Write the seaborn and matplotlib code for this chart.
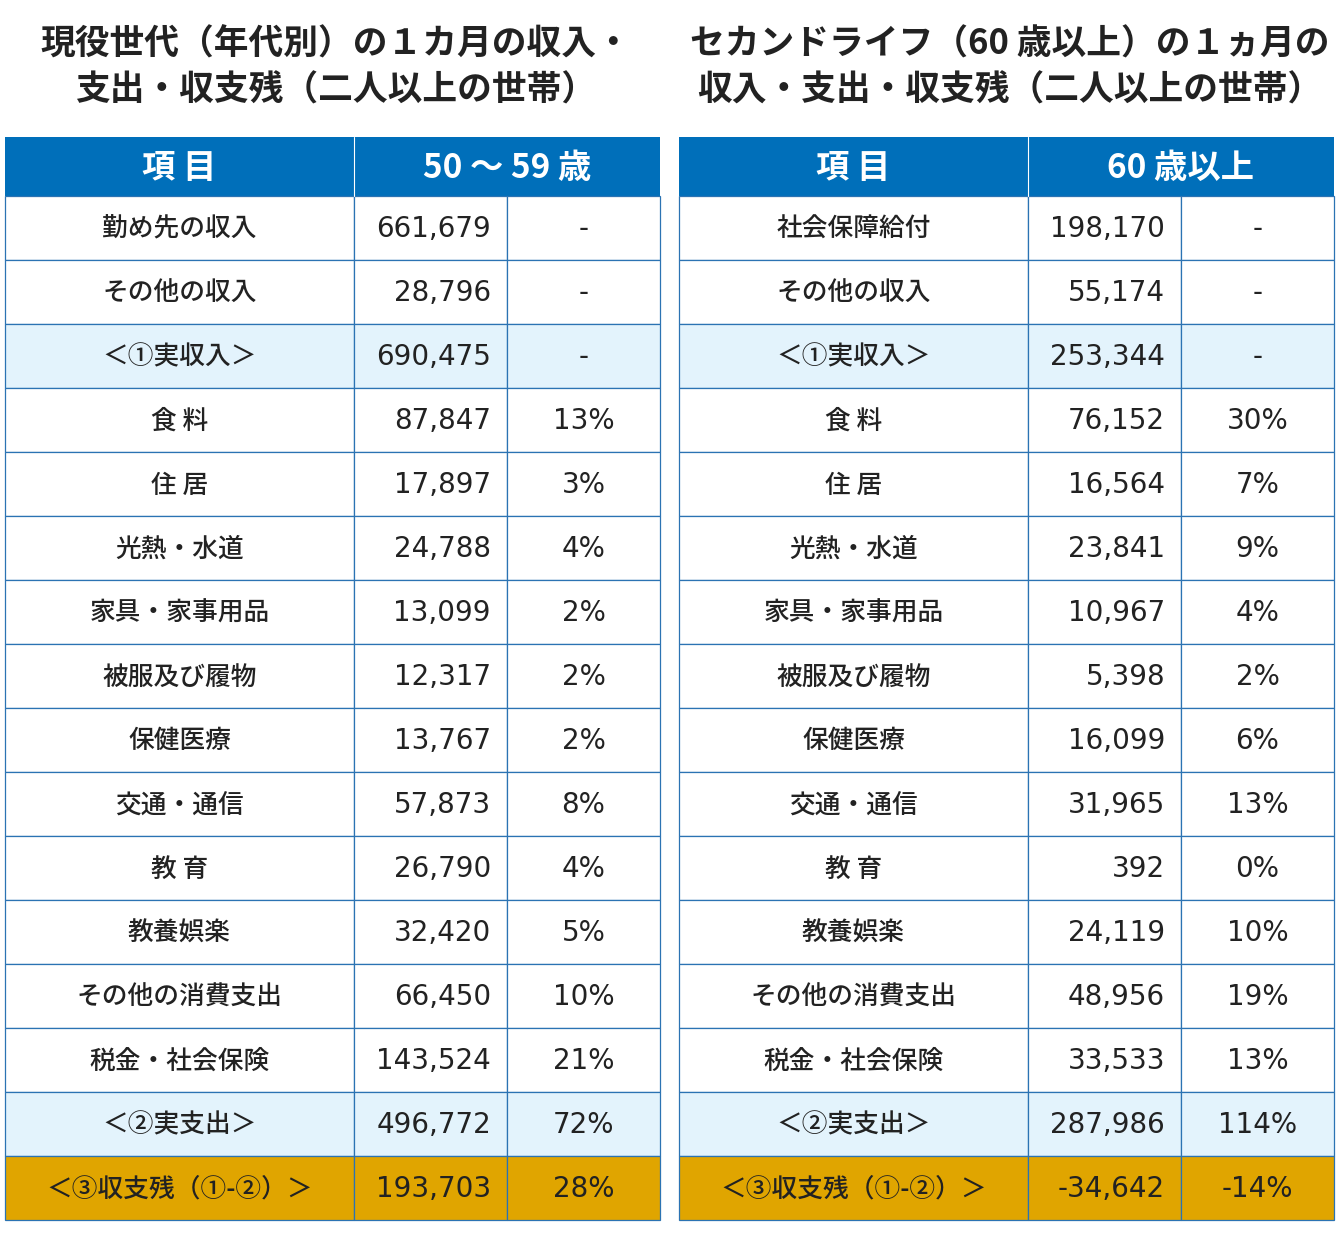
import matplotlib
matplotlib.use("Agg")
import matplotlib.pyplot as plt
from matplotlib.patches import Rectangle
import seaborn as sns

# ----------------------------------
# Data
# ----------------------------------
titles = [
    "現役世代（年代別）の１カ月の収入・\n支出・収支残（二人以上の世帯）",
    "セカンドライフ（60 歳以上）の１ヵ月の\n収入・支出・収支残（二人以上の世帯）",
]
headers = [("項 目", "50 ～ 59 歳"), ("項 目", "60 歳以上")]

items_left = ["勤め先の収入", "その他の収入", "＜①実収入＞", "食 料", "住 居", "光熱・水道",
              "家具・家事用品", "被服及び履物", "保健医療", "交通・通信", "教 育", "教養娯楽",
              "その他の消費支出", "税金・社会保険", "＜②実支出＞", "＜③収支残（①-②）＞"]
items_right = ["社会保障給付"] + items_left[1:]

amount_left = [661679, 28796, 690475, 87847, 17897, 24788, 13099, 12317, 13767,
               57873, 26790, 32420, 66450, 143524, 496772, 193703]
share_left = ["-", "-", "-", "13%", "3%", "4%", "2%", "2%", "2%", "8%", "4%",
              "5%", "10%", "21%", "72%", "28%"]

amount_right = [198170, 55174, 253344, 76152, 16564, 23841, 10967, 5398, 16099,
                31965, 392, 24119, 48956, 33533, 287986, -34642]
share_right = ["-", "-", "-", "30%", "7%", "9%", "4%", "2%", "6%", "13%", "0%",
               "10%", "19%", "13%", "114%", "-14%"]

# row kind: 0 normal, 1 subtotal, 2 balance
row_kind = [0, 0, 1, 0, 0, 0, 0, 0, 0, 0, 0, 0, 0, 0, 1, 2]

# ----------------------------------
# Style
# ----------------------------------
sns.set_style("white")
plt.rcParams["font.family"] = ["Noto Sans CJK JP", "DejaVu Sans"]
NUM_FONT = ["DejaVu Sans"]

HEAD_BLUE = "#006fba"
LINE_BLUE = "#2b73b3"
SUB_BG = "#e3f3fc"
GOLD = "#e0a500"
TEXT = "#222222"
fills = {0: "white", 1: SUB_BG, 2: GOLD}

W, H = 1340, 1233
fig = plt.figure(figsize=(W / 100, H / 100), dpi=100)
ax = fig.add_axes([0, 0, 1, 1])
ax.set_xlim(0, W)
ax.set_ylim(H, 0)
ax.axis("off")

head_top, head_h, row_h = 137, 59, 64
tables = [
    (5, [349, 153, 153], items_left, amount_left, share_left),
    (679, [349, 153, 153], items_right, amount_right, share_right),
]

for t, (x0, widths, items, amounts, shares) in enumerate(tables):
    total_w = sum(widths)
    cx = x0 + total_w / 2 + 3
    ax.text(cx, 67, titles[t], ha="center", va="center", fontsize=25,
            fontweight="bold", color=TEXT, linespacing=1.4)

    # header
    ax.add_patch(Rectangle((x0, head_top), total_w, head_h, facecolor=HEAD_BLUE,
                           edgecolor="none"))
    ax.plot([x0 + widths[0]] * 2, [head_top, head_top + head_h], color="white", lw=0.8)
    ax.text(x0 + widths[0] / 2, head_top + head_h / 2 + 2, headers[t][0], ha="center",
            va="center", fontsize=24, fontweight="bold", color="white")
    ax.text(x0 + widths[0] + (widths[1] + widths[2]) / 2, head_top + head_h / 2 + 2,
            headers[t][1], ha="center", va="center", fontsize=24, fontweight="bold",
            color="white")

    # body
    y = head_top + head_h
    for i, item in enumerate(items):
        bg = fills[row_kind[i]]
        xx = x0
        for w in widths:
            ax.add_patch(Rectangle((xx, y), w, row_h, facecolor=bg,
                                   edgecolor=LINE_BLUE, lw=0.9))
            xx += w
        ym = y + row_h / 2 + 1
        ax.text(x0 + widths[0] / 2, ym, item, ha="center", va="center",
                fontsize=18.5, fontweight="medium", color=TEXT)
        ax.text(x0 + widths[0] + widths[1] - 16, ym, f"{amounts[i]:,}", ha="right",
                va="center", fontsize=20, family=NUM_FONT, color=TEXT)
        ax.text(x0 + widths[0] + widths[1] + widths[2] / 2, ym, shares[i],
                ha="center", va="center", fontsize=20, family=NUM_FONT, color=TEXT)
        y += row_h

plt.savefig("out.png", dpi=100)
